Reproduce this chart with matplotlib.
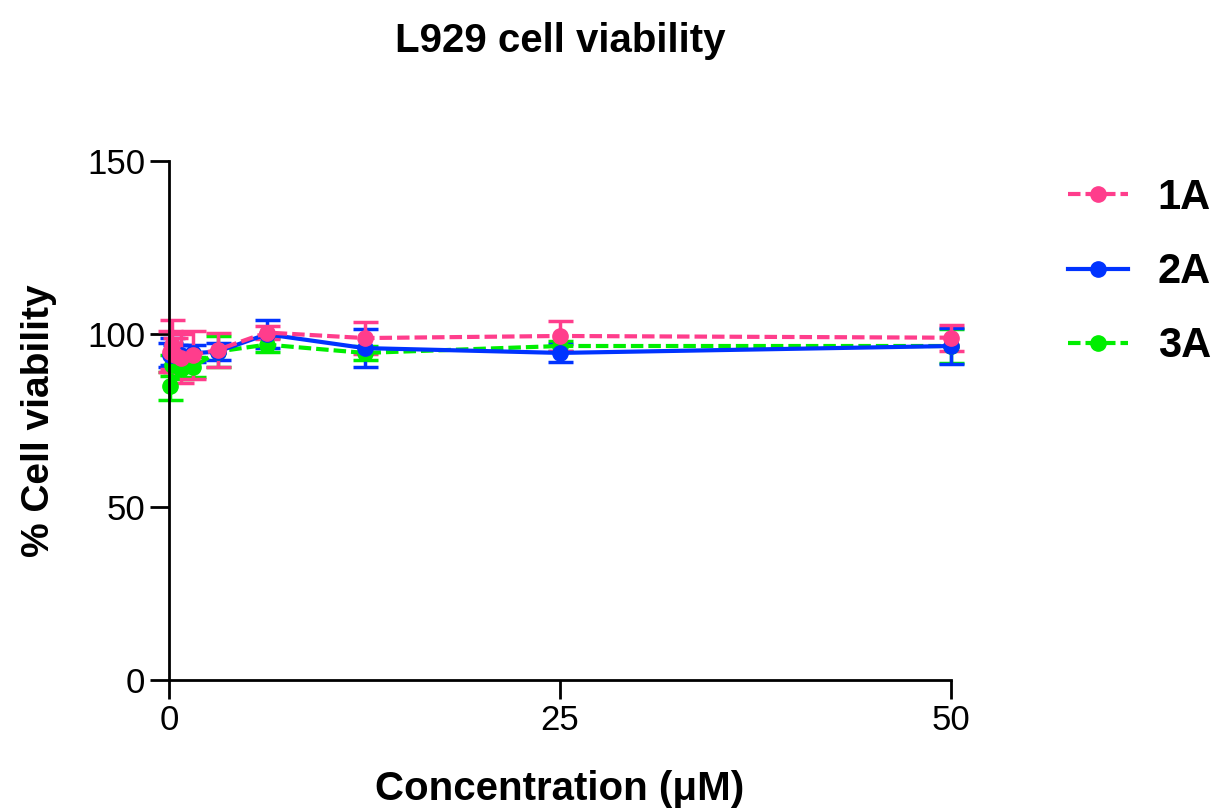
import matplotlib
matplotlib.use('Agg')
import matplotlib.pyplot as plt

plt.rcParams['font.family'] = ['Liberation Sans', 'DejaVu Sans']

conc = [0.098, 0.195, 0.39, 0.78, 1.56, 3.125, 6.25, 12.5, 25, 50]

v1a = [95.0, 97.0, 94.0, 93.0, 94.0, 95.5, 100.5, 98.9, 99.5, 99.0]
e1a = [6.0, 7.0, 5.0, 7.0, 7.0, 5.0, 2.0, 4.6, 4.2, 3.7]
v2a = [94.0, 95.0, 94.0, 94.0, 94.5, 95.0, 100.0, 96.0, 94.6, 96.6]
e2a = [3.5, 4.0, 3.0, 3.0, 2.5, 2.5, 4.0, 5.5, 2.5, 5.3]
v3a = [85.0, 91.0, 92.0, 90.0, 90.5, 95.0, 97.0, 94.6, 96.6, 96.6]
e3a = [4.0, 3.0, 3.0, 3.0, 3.0, 4.5, 2.0, 2.0, 1.5, 5.0]

series = [
    ('3A', v3a, e3a, '#00EE00', (0, (3, 1.2))),
    ('2A', v2a, e2a, '#0033FF', '-'),
    ('1A', v1a, e1a, '#FF3D8C', (0, (3, 1.2))),
]

fig = plt.figure(figsize=(12.15, 8.09), dpi=100)
ax = fig.add_axes([0.139, 0.1595, 0.644, 0.641])

handles = {}
for label, vals, errs, color, ls in series:
    eb = ax.errorbar(conc, vals, yerr=errs, color=color, linestyle=ls,
                     linewidth=3, marker='o', markersize=11, capsize=9,
                     capthick=2.5, elinewidth=2.5, label=label, clip_on=False)
    handles[label] = eb[0]

ax.set_xlim(0, 50)
ax.set_ylim(0, 150)
ax.set_xticks([0, 25, 50])
ax.set_yticks([0, 50, 100, 150])
ax.spines['top'].set_visible(False)
ax.spines['right'].set_visible(False)
for s in ('left', 'bottom'):
    ax.spines[s].set_linewidth(2)
ax.tick_params(axis='both', length=14, width=2, labelsize=25, pad=3)

ax.set_xlabel('Concentration (μM)', fontsize=29, fontweight='bold', labelpad=24)
ax.set_ylabel('% Cell viability', fontsize=28, fontweight='bold', labelpad=22)
fig.suptitle('L929 cell viability', x=0.461, y=0.973, fontsize=29, fontweight='bold')

leg = fig.legend([handles['1A'], handles['2A'], handles['3A']], ['1A', '2A', '3A'],
                 loc='upper left', bbox_to_anchor=(0.879, 0.78), frameon=False,
                 prop={'size': 30, 'weight': 'bold'}, handlelength=1.45,
                 labelspacing=0.82, handletextpad=0.7, borderpad=0,
                 borderaxespad=0)

plt.savefig('out.png', dpi=100)
plt.close()
